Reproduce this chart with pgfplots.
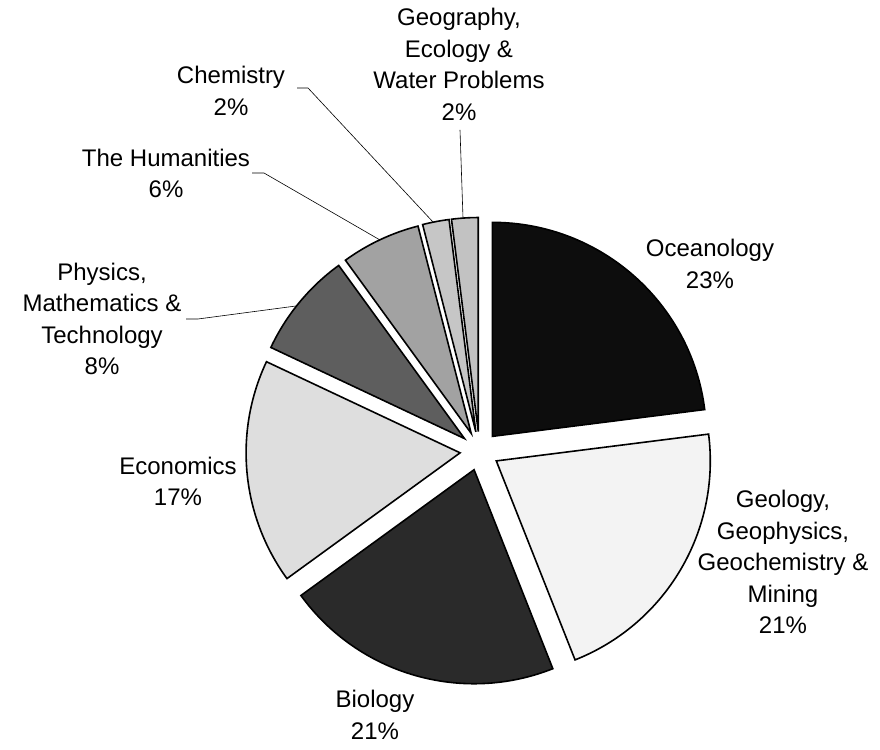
\documentclass[border=0pt]{standalone}
\usepackage{fontspec}
\setmainfont{Liberation Sans}
\usepackage{pgfplots}
\usepackage{pgfplotstable}
\pgfplotsset{compat=1.18}
\definecolor{c0}{HTML}{0D0D0D}
\definecolor{c1}{HTML}{F3F3F3}
\definecolor{c2}{HTML}{2A2A2A}
\definecolor{c3}{HTML}{DEDEDE}
\definecolor{c4}{HTML}{5E5E5E}
\definecolor{c5}{HTML}{A2A2A2}
\definecolor{c6}{HTML}{C6C6C6}
\definecolor{c7}{HTML}{C2C2C2}
\pgfplotstableread{
name value
Oceanology 23
Geology 21
Biology 21
Economics 17
Physics 8
Humanities 6
Chemistry 2
Geography 2
}\piedata
\begin{document}
\begin{tikzpicture}
\begin{axis}[hide axis, scale only axis, width=880pt, height=749pt,
  xmin=0, xmax=880, ymin=0, ymax=749, clip=false]
\path (rel axis cs:0,0) rectangle (rel axis cs:1,1);
\def\cum{0}
\pgfplotsforeachungrouped \i in {0,...,7}{%
  \pgfplotstablegetelem{\i}{value}\of\piedata
  \let\v\pgfplotsretval
  \pgfmathsetmacro\astart{90-3.6*\cum}%
  \pgfmathsetmacro\aend{90-3.6*(\cum+\v)}%
  \pgfmathsetmacro\amid{(\astart+\aend)/2}%
  \pgfmathsetmacro\cum{\cum+\v}%
  \edef\cmd{\noexpand\filldraw[fill=c\i,draw=black,line width=1.6pt,line join=miter]
    ([shift={(\amid:19.5pt)}]axis cs:479.5,298) -- ++(\astart:214pt)
    arc[start angle=\astart,end angle=\aend,radius=214pt] -- cycle;}%
  \cmd
}
% leader lines
\draw[black, line width=0.6pt] (axis cs:186,430) -- (axis cs:198,430) -- (axis cs:296,443);
\draw[black, line width=0.6pt] (axis cs:252,576) -- (axis cs:264,576) -- (axis cs:380,509);
\draw[black, line width=0.6pt] (axis cs:297,661) -- (axis cs:308,661) -- (axis cs:433,527);
\draw[black, line width=0.6pt] (axis cs:460,619) -- (axis cs:463,531);
% labels
\tikzset{lab/.style={align=center, inner sep=0pt, font={\fontsize{24}{31.5}\selectfont}}}
\node[lab] at (axis cs:710,485) {Oceanology\\23\%};
\node[lab] at (axis cs:783,187) {Geology,\\Geophysics,\\Geochemistry \&\\Mining\\21\%};
\node[lab] at (axis cs:375,34) {Biology\\21\%};
\node[lab] at (axis cs:178,267.5) {Economics\\17\%};
\node[lab] at (axis cs:102,430) {Physics,\\Mathematics \&\\Technology\\8\%};
\node[lab] at (axis cs:166,575.5) {The Humanities\\6\%};
\node[lab] at (axis cs:231,658) {Chemistry\\2\%};
\node[lab] at (axis cs:459,684.5) {Geography,\\Ecology \&\\Water Problems\\2\%};
\end{axis}
\end{tikzpicture}
\end{document}
